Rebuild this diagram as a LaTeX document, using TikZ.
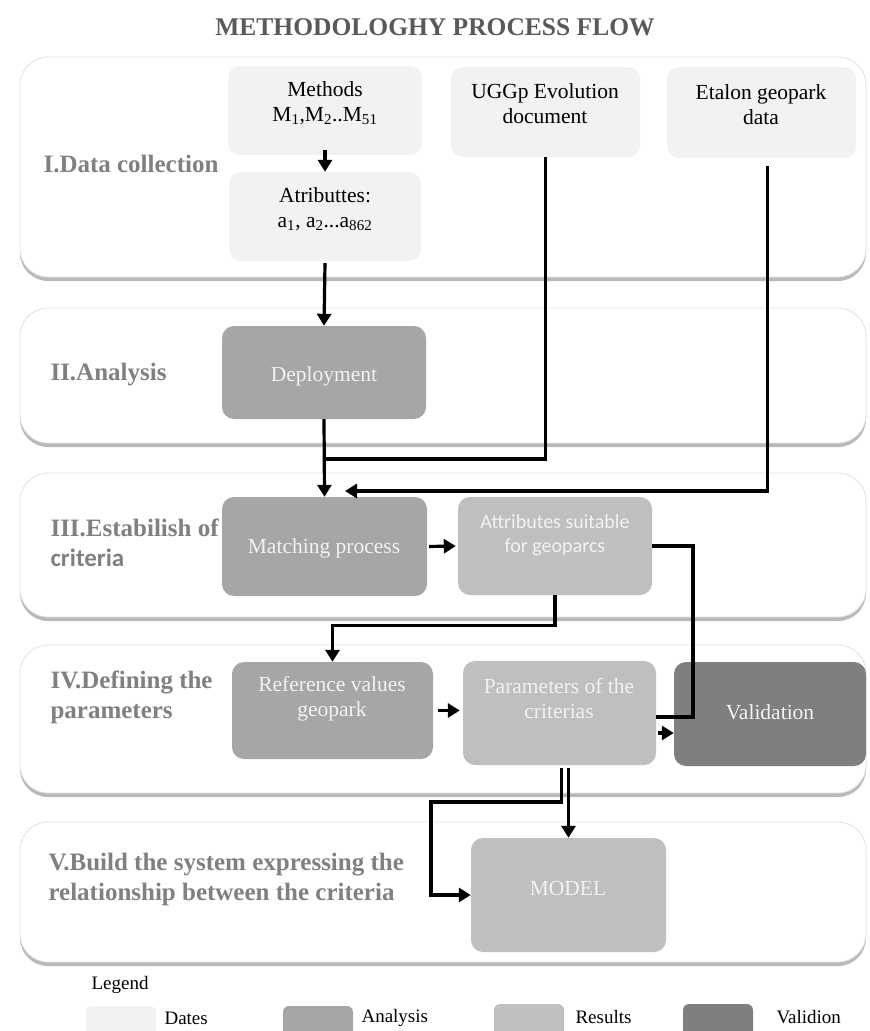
\documentclass[tikz,border=0pt]{standalone}
\usepackage{fontspec}
\setmainfont{Liberation Serif}
\newfontfamily\calibri{Carlito}
\usetikzlibrary{arrows.meta,shadows}

\definecolor{datesgray}{HTML}{F2F2F2}
\definecolor{analysisgray}{HTML}{A6A6A6}
\definecolor{resultsgray}{HTML}{BFBFBF}
\definecolor{validgray}{HTML}{7F7F7F}
\definecolor{stagegray}{HTML}{808080}
\definecolor{titlegray}{HTML}{595959}

\begin{document}
\begin{tikzpicture}
            [
            x = 1pt, y = 1pt,
            band/.style = {draw=black!12, fill=white, line width=0.8pt, rounded corners=28pt, drop shadow={shadow xshift=0pt, shadow yshift=-4pt, opacity=0.5, fill=black!55}},
            stage/.style = {anchor=west, align=left, text=stagegray, font=\fontsize{25}{30}\selectfont\bfseries},
            boxtext/.style = {align=center, font=\fontsize{21.5}{25}\selectfont},
            wboxtext/.style = {boxtext, text=datesgray},
            arr/.style = {line width=3.2pt, -{Triangle[length=12pt,width=14pt]}},
            link/.style = {line width=3.2pt},
            ]
            \tikzstyle{dates box}=[rectangle, rounded corners=12pt, fill=datesgray]
            \tikzstyle{analysis box}=[rectangle, rounded corners=12pt, fill=analysisgray]
            \tikzstyle{results box}=[rectangle, rounded corners=12pt, fill=resultsgray]
            \tikzstyle{valid box}=[rectangle, rounded corners=12pt, fill=validgray]
            \tikzstyle{legend text}=[anchor=west, font=\fontsize{19}{22}\selectfont]

            \useasboundingbox (0,0) rectangle (870,-1031);

            \node[text=titlegray, font=\fontsize{25.5}{30}\selectfont\bfseries] (title) at (435,-27) {METHODOLOGHY PROCESS FLOW};

            \node[band, minimum width=846, minimum height=220] (band1) at (443,-167) {};
            \node[band, minimum width=846, minimum height=135] (band2) at (443,-375.5) {};
            \node[band, minimum width=846, minimum height=144] (band3) at (443,-545) {};
            \node[band, minimum width=846, minimum height=148] (band4) at (443,-719) {};
            \node[band, minimum width=846, minimum height=140] (band5) at (443,-892) {};

            \node[stage] (stage1) at (40,-164) {I.Data collection};
            \node[stage] (stage2) at (47,-375) {II.Analysis};
            \node[stage] (stage3) at (47,-543) {III.Estabilish of\\{\calibri criteria}};
            \node[stage] (stage4) at (47,-697) {IV.Defining the\\parameters};
            \node[stage] (stage5) at (45,-879) {V.Build the system expressing the\\relationship between the criteria};

            \node[dates box, minimum width=194, minimum height=89] (meth) at (325,-110.5) {};
            \node[dates box, minimum width=192, minimum height=89] (attr) at (325,-216.5) {};
            \node[dates box, minimum width=189, minimum height=90] (uggp) at (545.5,-112) {};
            \node[dates box, minimum width=189, minimum height=91] (etal) at (761.5,-112.5) {};
            \node[analysis box, minimum width=204, minimum height=93] (dep) at (324,-372.5) {};
            \node[analysis box, minimum width=205, minimum height=99] (match) at (324.5,-546.5) {};
            \node[results box, minimum width=194, minimum height=98] (res) at (555,-546) {};
            \node[analysis box, minimum width=201, minimum height=97] (ref) at (332.5,-710.5) {};
            \node[results box, minimum width=193, minimum height=104] (par) at (559.5,-713) {};
            \node[valid box, minimum width=192, minimum height=104] (val) at (770,-714) {};
            \node[results box, minimum width=195, minimum height=114] (model) at (568.5,-895) {};

            \node[boxtext] (methT) at (325,-103) {Methods\\M\textsubscript{1},M\textsubscript{2}..M\textsubscript{51}};
            \node[boxtext] (attrT) at (325,-209) {Atributtes:\\a\textsubscript{1}, a\textsubscript{2}...a\textsubscript{862}};
            \node[boxtext] (uggpT) at (545,-104) {UGGp Evolution\\document};
            \node[boxtext] (etalT) at (761,-105) {Etalon geopark\\data};
            \node[wboxtext] (depT) at (324,-376) {Deployment};
            \node[wboxtext] (matchT) at (324,-548) {Matching process};
            \node[wboxtext, font=\calibri\fontsize{20}{24}\selectfont] (resT) at (555,-535) {Attributes suitable\\for geoparcs};
            \node[wboxtext] (refT) at (332,-699) {Reference values\\geopark};
            \node[wboxtext] (parT) at (559,-699) {Parameters of the\\criterias};
            \node[wboxtext] (valT) at (770,-712) {Validation};
            \node[wboxtext] (modelT) at (568,-888) {MODEL};

            \coordinate (j1) at (325,-459);
            \coordinate (j2) at (345,-491);
            \coordinate (k1) at (693,-717);
            \coordinate (m1) at (431,-802);

            \draw[arr] ([yshift=5pt]meth.south) -- (attr.north);
            \draw[arr] ([yshift=-2pt]attr.south) -- (dep.north);
            \draw[arr] (dep.south) -- (match.north);
            \draw[link] (uggp.south) |- (j1);
            \draw[arr] ([xshift=6pt,yshift=-8pt]etal.south) |- (j2);
            \draw[arr, shorten <=2pt, shorten >=2pt] (match.east) -- (res.west);
            \draw[link] (res.east) -| (k1) -- (k1 -| par.east);
            \draw[arr, shorten <=2pt] ([yshift=-20pt]par.east) -- ([yshift=-20pt]par.east -| val.west);
            \draw[arr] (res.south) -- ++(0,-30) -| (ref.north);
            \draw[arr, shorten <=5pt, shorten >=3pt] (ref.east) -- (ref.east -| par.west);
            \draw[arr] ([xshift=2pt,yshift=-3pt]par.south) |- (m1) |- (model.west);
            \draw[arr] ([yshift=-3pt]par.south -| model.north) -- (model.north);

            \node[anchor=west, font=\fontsize{19}{22}\selectfont] (legend) at (88,-985) {Legend};
            \node[dates box, rounded corners=6pt, minimum width=70, minimum height=40] (sw1) at (121,-1026) {};
            \node[analysis box, rounded corners=6pt, minimum width=70, minimum height=40] (sw2) at (318,-1026) {};
            \node[results box, rounded corners=6pt, minimum width=70, minimum height=40] (sw3) at (529,-1024) {};
            \node[valid box, rounded corners=6pt, minimum width=70, minimum height=40] (sw4) at (718,-1024) {};
            \node[legend text] (lg1) at (161,-1018) {Dates};
            \node[legend text] (lg2) at (358,-1018) {Analysis};
            \node[legend text] (lg3) at (572,-1017) {Results};
            \node[legend text] (lg4) at (773,-1017) {Validion};
\end{tikzpicture}
\end{document}
